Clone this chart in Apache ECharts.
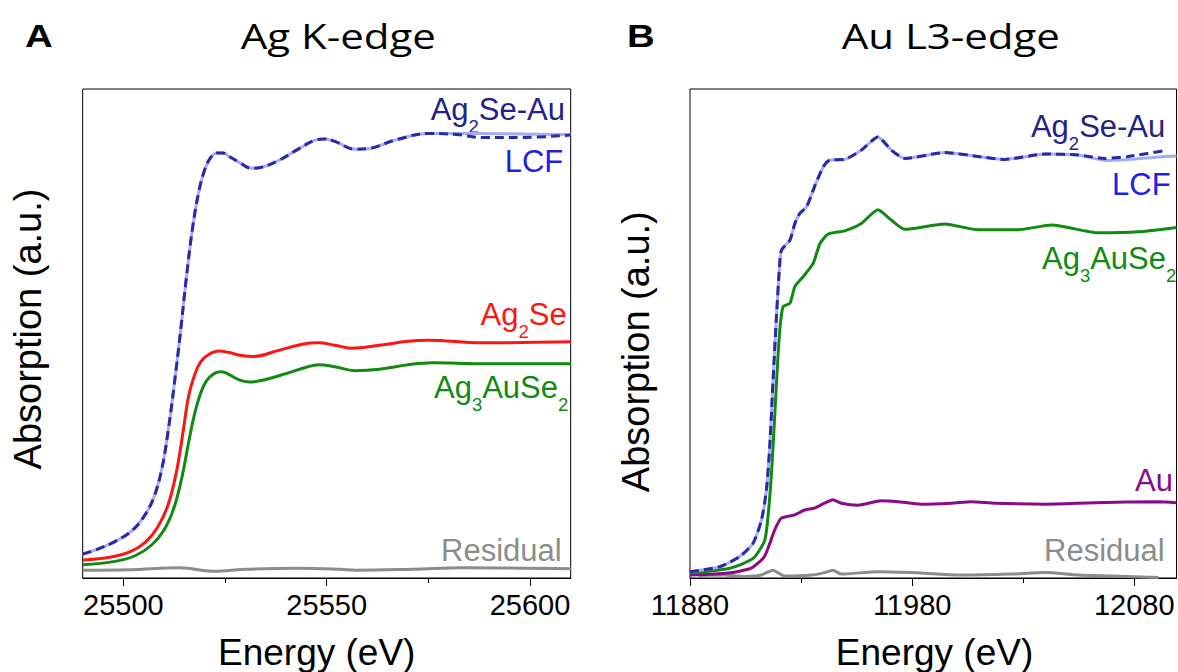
<!DOCTYPE html>
<html>
<head>
<meta charset="utf-8">
<script src="https://cdn.jsdelivr.net/npm/echarts@6/dist/echarts.min.js"></script>
<style>
html,body{margin:0;padding:0;background:#fff;}
#chart{width:1178px;height:672px;}
</style>
</head>
<body>
<div id="chart"></div>
<script>
// ---------- Panel A : Ag K-edge ----------
const aTicks = [25500, 25550, 25600];
const aMinorTicks = [25525, 25575];

const aE_Ag2SeAu = [25490, 25494, 25498, 25502, 25505, 25507.5, 25509.5, 25511, 25512.5, 25514, 25515.5, 25517, 25518.5, 25520, 25521.5, 25523, 25524.5, 25526, 25528.5, 25531.5, 25534, 25538, 25543, 25547, 25549.5, 25552, 25557, 25560, 25567, 25575, 25582, 25588, 25598, 25610];
const aV_Ag2SeAu = [0.049, 0.060, 0.075, 0.096, 0.125, 0.165, 0.225, 0.300, 0.395, 0.500, 0.615, 0.715, 0.788, 0.835, 0.860, 0.869, 0.869, 0.862, 0.850, 0.838, 0.840, 0.853, 0.877, 0.895, 0.898, 0.893, 0.877, 0.878, 0.896, 0.909, 0.907, 0.901, 0.901, 0.906];

const aE_LCF = [25490, 25494, 25498, 25502, 25505, 25507.5, 25509.5, 25511, 25512.5, 25514, 25515.5, 25517, 25518.5, 25520, 25521.5, 25523, 25524.5, 25526, 25528.5, 25531.5, 25534, 25538, 25543, 25547, 25549.5, 25552, 25557, 25560, 25567, 25575, 25582, 25588, 25598, 25610];
const aV_LCF = [0.049, 0.060, 0.075, 0.096, 0.125, 0.165, 0.225, 0.300, 0.395, 0.500, 0.615, 0.715, 0.788, 0.835, 0.860, 0.869, 0.869, 0.862, 0.850, 0.838, 0.840, 0.853, 0.877, 0.895, 0.898, 0.893, 0.877, 0.878, 0.896, 0.909, 0.909, 0.909, 0.908, 0.907];

const aE_Ag2Se = [25490, 25497, 25502, 25505.5, 25508.5, 25511, 25513, 25514.7, 25516, 25517.5, 25519, 25521, 25523.5, 25526, 25529, 25532, 25538, 25544, 25548, 25552, 25556, 25563, 25570, 25575, 25588, 25610];
const aV_Ag2Se = [0.037, 0.043, 0.055, 0.074, 0.105, 0.150, 0.215, 0.300, 0.370, 0.415, 0.442, 0.457, 0.464, 0.461, 0.455, 0.453, 0.465, 0.478, 0.481, 0.476, 0.470, 0.476, 0.484, 0.486, 0.481, 0.483];

const aE_Ag3AuSe2 = [25490, 25498, 25503, 25507, 25510, 25512.5, 25514.5, 25516, 25517.5, 25519, 25520.5, 25522.5, 25524.2, 25526, 25528.5, 25531, 25535, 25540, 25545, 25548, 25552, 25557, 25563, 25570, 25576, 25588, 25610];
const aV_Ag3AuSe2 = [0.027, 0.034, 0.046, 0.068, 0.098, 0.145, 0.210, 0.275, 0.335, 0.378, 0.404, 0.419, 0.422, 0.416, 0.405, 0.401, 0.406, 0.418, 0.431, 0.436, 0.432, 0.424, 0.427, 0.436, 0.440, 0.438, 0.438];

const aE_Residual = [25490, 25501.6, 25513.9, 25522.1, 25530.3, 25542.6, 25553.3, 25557, 25571.2, 25583.5, 25610];
const aV_Residual = [0.016, 0.017, 0.021, 0.014, 0.018, 0.020, 0.018, 0.016, 0.018, 0.021, 0.019];

// ---------- Panel B : Au L3-edge ----------
const bTicks = [11880, 11980, 12080];
const bMinorTicks = [11930, 12030];

const bE_Ag2SeAu = [11880, 11893.4, 11902.4, 11908.4, 11912.2, 11914.4, 11915.9, 11917.4, 11919.0, 11920.4, 11921.2, 11925.0, 11927.2, 11929.5, 11932.5, 11936.1, 11940.0, 11943.0, 11949.6, 11957.1, 11964.6, 11970.6, 11976.7, 11994.7, 12009.7, 12021.7, 12039.8, 12054.8, 12066.8, 12077.3, 12093.9];
const bV_Ag2SeAu = [0.013, 0.023, 0.044, 0.071, 0.119, 0.180, 0.269, 0.405, 0.541, 0.644, 0.671, 0.691, 0.725, 0.746, 0.759, 0.801, 0.841, 0.855, 0.856, 0.875, 0.902, 0.875, 0.858, 0.870, 0.862, 0.856, 0.867, 0.865, 0.858, 0.862, 0.874];

const bE_LCF = [11880, 11893.4, 11902.4, 11908.4, 11912.2, 11914.4, 11915.9, 11917.4, 11919.0, 11920.4, 11921.2, 11925.0, 11927.2, 11929.5, 11932.5, 11936.1, 11940.0, 11943.0, 11949.6, 11957.1, 11964.6, 11970.6, 11976.7, 11994.7, 12009.7, 12021.7, 12039.8, 12054.8, 12066.8, 12077.3, 12093.9, 12099];
const bV_LCF = [0.013, 0.023, 0.044, 0.071, 0.119, 0.180, 0.269, 0.405, 0.541, 0.644, 0.671, 0.691, 0.725, 0.746, 0.759, 0.801, 0.841, 0.855, 0.856, 0.875, 0.902, 0.875, 0.858, 0.870, 0.862, 0.856, 0.867, 0.865, 0.854, 0.856, 0.862, 0.863];

const bE_Ag3AuSe2 = [11880, 11897.9, 11908.4, 11913.7, 11915.9, 11917.4, 11919.0, 11920.4, 11921.9, 11925.0, 11927.2, 11930.9, 11935.5, 11938.5, 11942.1, 11949.6, 11957.1, 11964.6, 11970.6, 11976.7, 11994.7, 12009.7, 12027.7, 12042.8, 12063.8, 12081.8, 12099];
const bV_Ag3AuSe2 = [0.010, 0.020, 0.040, 0.078, 0.166, 0.269, 0.405, 0.507, 0.555, 0.562, 0.596, 0.616, 0.644, 0.684, 0.703, 0.710, 0.725, 0.753, 0.732, 0.713, 0.724, 0.712, 0.712, 0.722, 0.706, 0.708, 0.717];

const bE_Au = [11880, 11897.0, 11907.5, 11913.5, 11918.1, 11921.0, 11927.1, 11931.6, 11936.1, 11940.6, 11944.3, 11948.1, 11955.6, 11966.1, 11973.6, 11984.1, 11997.7, 12006.7, 12017.2, 12039.8, 12062.3, 12090.9, 12099];
const bV_Au = [0.006, 0.010, 0.020, 0.044, 0.098, 0.122, 0.129, 0.139, 0.143, 0.153, 0.160, 0.153, 0.149, 0.158, 0.156, 0.151, 0.153, 0.156, 0.153, 0.151, 0.154, 0.156, 0.154];

const bE_Residual = [11884, 11895.5, 11904.5, 11912.0, 11917.3, 11922.6, 11934.6, 11940.6, 11944.3, 11948.1, 11964.6, 11979.6, 12002.2, 12024.7, 12039.8, 12054.8, 12069.8, 12090.9];
const bV_Residual = [0.005, 0.006, 0.003, 0.006, 0.016, 0.004, 0.006, 0.011, 0.016, 0.008, 0.013, 0.011, 0.006, 0.008, 0.011, 0.006, 0.004, 0.001];

// ---------- styling ----------
const C_NAVY = '#2a2aa6', C_NAVY_TXT = '#222288', C_LCF = '#a3acf7', C_LCF_TXT = '#1f1fe6';
const C_RED = '#ff1414', C_GREEN = '#118a11', C_PURPLE = '#8a0a8a', C_GRAY = '#8c8c8c';
const SANS = 'Liberation Sans, Arial, Helvetica, sans-serif';
const TITLE_FONT = 'Open Sans, sans-serif';

function zip(e, v) { return e.map((x, i) => [x, v[i]]); }
function line(name, e, v, axis, color, width, dash, smooth) {
  return {
    name: name, type: 'line', xAxisIndex: axis, yAxisIndex: axis,
    data: zip(e, v), symbol: 'none', smooth: smooth,
    lineStyle: { color: color, width: width, type: dash || 'solid' },
    silent: true, animation: false
  };
}
function xMain(grid, min, max, ticks) {
  return {
    gridIndex: grid, type: 'value', min: min, max: max,
    axisLine: { show: true, onZero: false, lineStyle: { color: '#000', width: 1 } },
    axisTick: { show: true, length: 8, customValues: ticks, lineStyle: { color: '#000', width: 1 } },
    axisLabel: { customValues: ticks, fontSize: 29, color: '#000', fontFamily: SANS, margin: 12,
                 formatter: function (v) { return String(v); } },
    splitLine: { show: false }
  };
}
function xMinor(grid, min, max, ticks) {
  return {
    gridIndex: grid, type: 'value', min: min, max: max, position: 'bottom',
    axisLine: { show: false },
    axisTick: { show: true, length: 5, customValues: ticks, lineStyle: { color: '#000', width: 1 } },
    axisLabel: { show: false }, splitLine: { show: false }
  };
}
function yHidden(grid) {
  return { gridIndex: grid, type: 'value', min: 0, max: 1, show: false };
}

function rich(parts, color) {
  const t = parts.map(p => (p[1] ? '{s|' : '{m|') + p[0] + '}').join('');
  return {
    text: t, fill: color, align: 'right', verticalAlign: 'top',
    rich: {
      m: { fontSize: 31, lineHeight: 31, fontFamily: SANS, fill: color, verticalAlign: 'top' },
      s: { fontSize: 18.5, lineHeight: 18.5, fontFamily: SANS, fill: color, verticalAlign: 'top', padding: [23, 0, 0, 0] }
    }
  };
}
function lbl(x, baseline, parts, color) {
  return { type: 'text', x: x, y: baseline - 26.3, silent: true, style: rich(parts, color) };
}

const option = {
  animation: false,
  backgroundColor: '#fff',
  grid: [
    { left: 82.7, top: 89, width: 488, height: 489, show: true, borderColor: '#000', borderWidth: 1 },
    { left: 690, top: 89, width: 486.5, height: 489, show: true, borderColor: '#000', borderWidth: 1 }
  ],
  xAxis: [
    xMain(0, 25490, 25610, aTicks),
    xMain(1, 11880, 12099, bTicks),
    xMinor(0, 25490, 25610, aMinorTicks),
    xMinor(1, 11880, 12099, bMinorTicks)
  ],
  yAxis: [yHidden(0), yHidden(1), yHidden(0), yHidden(1)],
  series: [
    line('Residual', aE_Residual, aV_Residual, 0, C_GRAY, 3, null, 0.4),
    line('Ag3AuSe2', aE_Ag3AuSe2, aV_Ag3AuSe2, 0, C_GREEN, 3, null, 0.4),
    line('Ag2Se', aE_Ag2Se, aV_Ag2Se, 0, C_RED, 3, null, 0.4),
    line('LCF', aE_LCF, aV_LCF, 0, C_LCF, 3, null, 0.4),
    line('Ag2Se-Au', aE_Ag2SeAu, aV_Ag2SeAu, 0, C_NAVY, 3, [9, 5], 0.4),

    line('Residual', bE_Residual, bV_Residual, 1, C_GRAY, 3, null, 0.2),
    line('Au', bE_Au, bV_Au, 1, C_PURPLE, 3, null, 0.2),
    line('Ag3AuSe2', bE_Ag3AuSe2, bV_Ag3AuSe2, 1, C_GREEN, 3, null, 0.2),
    line('LCF', bE_LCF, bV_LCF, 1, C_LCF, 3, null, 0.2),
    line('Ag2Se-Au', bE_Ag2SeAu, bV_Ag2SeAu, 1, C_NAVY, 3, [9, 5], 0.2)
  ],
  graphic: [
    { type: 'text', x: 25, y: 36, scaleX: 1.2, silent: true,
      style: { text: 'A', fontSize: 32, fontWeight: 'bold', fontFamily: SANS, fill: '#000', align: 'left', verticalAlign: 'middle' } },
    { type: 'text', x: 627, y: 36, scaleX: 1.2, silent: true,
      style: { text: 'B', fontSize: 32, fontWeight: 'bold', fontFamily: SANS, fill: '#000', align: 'left', verticalAlign: 'middle' } },
    { type: 'text', x: 338.3, y: 35, scaleX: 1.2, silent: true,
      style: { text: 'Ag K-edge', fontSize: 35, fontFamily: TITLE_FONT, fill: '#000', align: 'center', verticalAlign: 'middle' } },
    { type: 'text', x: 950.8, y: 35, scaleX: 1.2, silent: true,
      style: { text: 'Au L3-edge', fontSize: 35, fontFamily: TITLE_FONT, fill: '#000', align: 'center', verticalAlign: 'middle' } },
    { type: 'text', x: 316.7, y: 652, silent: true,
      style: { text: 'Energy (eV)', fontSize: 37, fontFamily: SANS, fill: '#000', align: 'center', verticalAlign: 'middle' } },
    { type: 'text', x: 934.5, y: 652, silent: true,
      style: { text: 'Energy (eV)', fontSize: 37, fontFamily: SANS, fill: '#000', align: 'center', verticalAlign: 'middle' } },
    { type: 'text', x: 27.5, y: 329, rotation: Math.PI / 2, silent: true,
      style: { text: 'Absorption (a.u.)', fontSize: 38, fontFamily: SANS, fill: '#000', align: 'center', verticalAlign: 'middle' } },
    { type: 'text', x: 635.8, y: 351.7, rotation: Math.PI / 2, silent: true,
      style: { text: 'Absorption (a.u.)', fontSize: 38, fontFamily: SANS, fill: '#000', align: 'center', verticalAlign: 'middle' } },

    lbl(565, 120, [['Ag', 0], ['2', 1], ['Se-Au', 0]], C_NAVY_TXT),
    lbl(563.3, 172.7, [['LCF', 0]], C_LCF_TXT),
    lbl(566.7, 325, [['Ag', 0], ['2', 1], ['Se', 0]], C_RED),
    lbl(568.3, 398.3, [['Ag', 0], ['3', 1], ['AuSe', 0], ['2', 1]], C_GREEN),
    lbl(561.7, 561.7, [['Residual', 0]], C_GRAY),

    lbl(1165.3, 137.3, [['Ag', 0], ['2', 1], ['Se-Au', 0]], C_NAVY_TXT),
    lbl(1170.7, 195, [['LCF', 0]], C_LCF_TXT),
    lbl(1176.3, 269.3, [['Ag', 0], ['3', 1], ['AuSe', 0], ['2', 1]], C_GREEN),
    lbl(1173, 491.7, [['Au', 0]], C_PURPLE),
    lbl(1164.7, 561.7, [['Residual', 0]], C_GRAY)
  ]
};

const chart = echarts.init(document.getElementById('chart'), null, { renderer: 'svg', width: 1178, height: 672 });
chart.setOption(option);
</script>
</body>
</html>
